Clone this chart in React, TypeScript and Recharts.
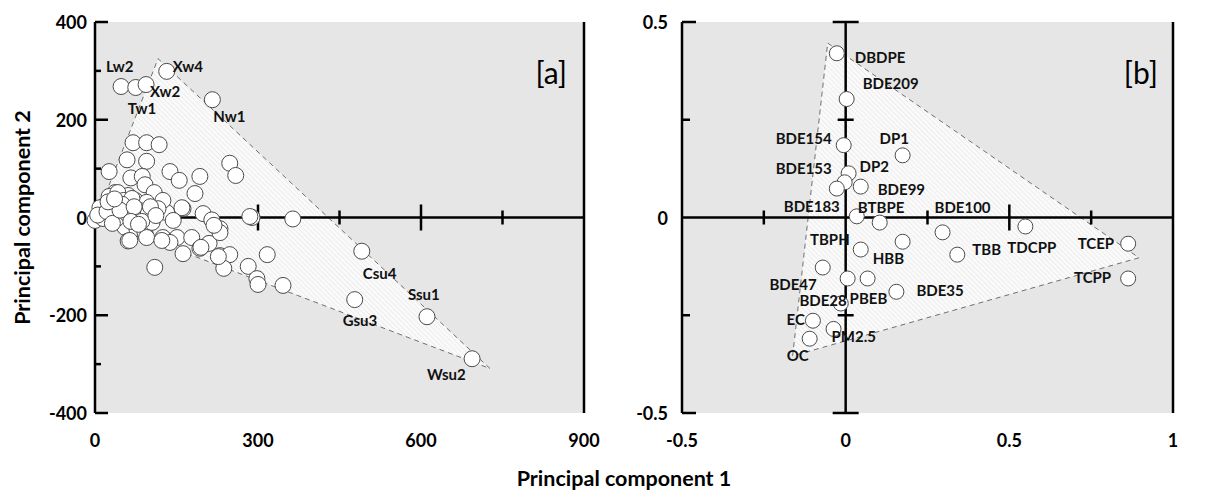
import React from 'react';
import { ScatterChart, Scatter, XAxis, YAxis, CartesianGrid } from 'recharts';

// [a] sample scores (PC1, PC2), unlabelled samples
const samplesA: [number, number][] = [
  [70, 153], [95, 153], [118, 149], [59, 118], [95, 115], [26, 94], [66, 81], [87, 84], [92, 67], [109, 51],
  [138, 94], [155, 76], [193, 84], [184, 49], [248, 111], [259, 86], [289, 0], [364, -3], [162, 18], [199, 8],
  [215, -5], [230, -23], [132, 10], [37, 51], [61, 45], [18, 25], [48, 25], [74, 35], [95, 31], [125, 35],
  [160, 20], [285, 2], [13, 0], [0, -6], [37, -6], [55, -20], [77, -23], [92, -31], [107, -2], [61, -48],
  [125, -41], [151, -41], [138, -51], [178, -41], [162, -74], [193, -63], [210, -53], [230, -78], [248, -76], [237, -104],
  [282, -100], [317, -76], [110, -102], [298, -125], [300, -137], [346, -139], [26, 43], [42, 51], [53, 35], [68, 39],
  [50, 27], [9, 20], [15, -2], [28, 8], [40, -2], [59, 8], [83, 14], [98, 8], [105, -10], [116, 18],
  [64, -47], [95, -41], [123, -47], [195, -61], [227, -80], [230, -31], [144, -6], [219, -16], [5, 5], [22, 12],
  [32, -12], [46, 15], [72, 22], [86, -8], [102, 22], [66, -8], [24, 32], [36, 38], [80, -14], [112, 4],
];

// [a] labelled samples
const namesA = ['Lw2', 'Tw1', 'Xw2', 'Xw4', 'Nw1', 'Csu4', 'Gsu3', 'Ssu1', 'Wsu2'];
const pc1A = [48, 75, 94, 132, 216, 491, 478, 611, 694];
const pc2A = [268, 266, 272, 299, 241, -69, -168, -203, -289];

// [a] outline of the sample cloud
const hullA: [number, number][] = [[2, -3], [116, 325], [727, -309]];

// [b] variable loadings
const namesB = [
  'DBDPE', 'BDE209', 'BDE154', 'DP1', 'DP2', 'BDE153', 'BDE183', 'BDE99', 'BTBPE', 'TBPH',
  'BDE100', 'HBB', 'TBB', 'TDCPP', 'TCEP', 'TCPP', 'BDE47', 'PBEB', 'BDE35', 'BDE28',
  'EC', 'PM2.5', 'OC',
];
const pc1B = [
  -0.027, 0.003, -0.006, 0.174, 0.009, -0.003, -0.027, 0.046, 0.034, 0.104,
  0.296, 0.046, 0.341, 0.549, 0.863, 0.863, -0.07, 0.067, 0.155, -0.015,
  -0.1, -0.037, -0.11,
];
const pc2B = [
  0.42, 0.303, 0.185, 0.159, 0.113, 0.09, 0.074, 0.079, 0.003, -0.013,
  -0.038, -0.082, -0.095, -0.023, -0.067, -0.156, -0.128, -0.156, -0.19, -0.22,
  -0.264, -0.285, -0.31,
];
const extraB: [number, number][] = [[0.174, -0.062], [0.006, -0.156]];
const hullB: [number, number][] = [[-0.055, 0.446], [0.896, -0.103], [-0.162, -0.354]];

// axis ticks
const xTicksA = [0, 300, 600, 900];
const yTicksA = [-400, -300, -200, -100, 0, 100, 200, 300, 400];
const zeroMajorA = [300, 600];
const zeroMinorA = [150, 450, 750];
const xTicksB = [-0.5, 0, 0.5, 1];
const yTicksB = [-0.5, -0.25, 0, 0.25, 0.5];
const zeroMajorXB = [0.5];
const zeroMinorXB = [-0.25, 0.25, 0.75];
const zeroMajorYB = [-0.5, 0.5];
const zeroMinorYB = [-0.25, 0.25];

// label placement: [anchor, dx, dy] in px from the point centre
const labelPosA: Record<string, ['start' | 'end', number, number]> = {
  Lw2: ['start', -15, -21],
  Tw1: ['start', -8, 21],
  Xw2: ['start', 4, 6],
  Xw4: ['start', 6, -5],
  Nw1: ['start', 1, 16],
  Csu4: ['start', 1, 22],
  Gsu3: ['start', -12, 20],
  Ssu1: ['start', -19, -23],
  Wsu2: ['start', -45, 15],
};
const labelPosB: Record<string, ['start' | 'end', number, number]> = {
  DBDPE: ['start', 18, 4],
  BDE209: ['start', 16, -16],
  BDE154: ['end', -12, -7],
  DP1: ['start', -23, -17],
  DP2: ['start', 11, -7],
  BDE153: ['end', -13, -14],
  BDE183: ['end', 3, 17],
  BDE99: ['start', 17, 2],
  BTBPE: ['start', 1, -9],
  TBPH: ['end', -30, 16],
  BDE100: ['start', -8, -25],
  HBB: ['start', 12, 8],
  TBB: ['start', 15, -6],
  TDCPP: ['start', -18, 21],
  TCEP: ['end', -14, -1],
  TCPP: ['end', -17, -1],
  BDE47: ['end', -6, 16],
  PBEB: ['start', -18, 20],
  BDE35: ['start', 20, -2],
  BDE28: ['end', 6, -4],
  EC: ['end', -8, -2],
  'PM2.5': ['start', -2, 7],
  OC: ['start', -23, 16],
};

const FONT = 'Lato, "Open Sans", sans-serif';
const tickFont: React.CSSProperties = { fontFamily: FONT, fontWeight: 700, fontSize: 18, fill: '#000' };
const nameFont: React.CSSProperties = { fontFamily: FONT, fontWeight: 700, fontSize: 15, fill: '#111' };
const BG = '#e6e6e6';

const pointsA = [
  ...samplesA.map(([x, y]) => ({ x, y })),
  ...namesA.map((name, i) => ({ name, x: pc1A[i], y: pc2A[i] })),
];
const namedA = namesA.map((name, i) => ({ name, x: pc1A[i], y: pc2A[i] }));
const namedB = namesB.map((name, i) => ({ name, x: pc1B[i], y: pc2B[i] }));
const pointsB = [...namedB, ...extraB.map(([x, y]) => ({ x, y }))];
const toXY = (arr: number[], y = 0) => arr.map((x) => ({ x, y }));
const toYX = (arr: number[]) => arr.map((y) => ({ x: 0, y }));

const makeYTick =
  (side: 'left' | 'right', gap: number, isMajor: (v: number) => boolean, majorLen: number, minorLen: number) =>
  (props: any) => {
    const { x, y, payload } = props;
    const v: number = payload.value;
    const dir = side === 'left' ? 1 : -1;
    const major = isMajor(v);
    return (
      <g>
        {v !== 0 && (
          <line x1={x} y1={y} x2={x + dir * (major ? majorLen : minorLen)} y2={y} stroke="#000" strokeWidth={2.5} />
        )}
        {major && (
          <text
            x={x - dir * gap}
            y={y}
            textAnchor={side === 'left' ? 'end' : 'start'}
            dominantBaseline="central"
            style={tickFont}
          >
            {v}
          </text>
        )}
      </g>
    );
  };

const xTick = (props: any) => (
  <text x={props.x} y={props.y + 27} textAnchor="middle" dominantBaseline="central" style={tickFont}>
    {props.payload.value}
  </text>
);

const hullShape = (p: any) => (
  <polygon
    points={p.points.map((q: any) => `${q.x},${q.y}`).join(' ')}
    fill="url(#hatch)"
    stroke="#6f6f6f"
    strokeWidth={1}
    strokeDasharray="5 4"
  />
);

const empty = () => <g />;
const vTick = (half: number) => (p: any) =>
  <line x1={p.cx} x2={p.cx} y1={p.cy - half} y2={p.cy + half} stroke="#000" strokeWidth={2.5} />;
const hTick = (half: number) => (p: any) =>
  <line x1={p.cx - half} x2={p.cx + half} y1={p.cy} y2={p.cy} stroke="#000" strokeWidth={2.5} />;
const dot = (r: number) => (p: any) =>
  <circle cx={p.cx} cy={p.cy} r={r} fill="#fff" stroke="#4a4a4a" strokeWidth={1} />;
const nameLabel = (pos: Record<string, ['start' | 'end', number, number]>) => (p: any) => {
  const [anchor, dx, dy] = pos[p.payload.name];
  return (
    <text x={p.cx + dx} y={p.cy + dy} textAnchor={anchor} dominantBaseline="central" style={nameFont}>
      {p.payload.name}
    </text>
  );
};
const zeroLine = { stroke: '#000', strokeWidth: 2.5 };

const PanelA = () => (
  <ScatterChart width={632} height={490} margin={{ top: 22, right: 0, bottom: 47, left: 0 }}>
    <CartesianGrid fill={BG} horizontal={false} vertical={false} stroke="none" />
    <XAxis
      type="number"
      dataKey="x"
      domain={[0, 900]}
      ticks={xTicksA}
      interval={0}
      height={30}
      axisLine={false}
      tickLine={false}
      tickSize={0}
      tickMargin={0}
      tick={xTick}
    />
    <YAxis
      type="number"
      dataKey="y"
      domain={[-400, 400]}
      ticks={yTicksA}
      interval={0}
      width={95}
      axisLine={zeroLine}
      tickLine={false}
      tickSize={0}
      tickMargin={0}
      tick={makeYTick('left', 8, (v) => v % 200 === 0, 13, 6)}
      label={{
        value: 'Principal component 2',
        angle: -90,
        position: 'insideLeft',
        offset: 22,
        style: { textAnchor: 'middle', fontFamily: FONT, fontWeight: 700, fontSize: 21.5, fill: '#000' },
      }}
    />
    <YAxis
      yAxisId="r"
      orientation="right"
      type="number"
      domain={[-400, 400]}
      ticks={yTicksA}
      interval={0}
      width={48}
      axisLine={zeroLine}
      tickLine={false}
      tickSize={0}
      tickMargin={0}
      tick={makeYTick('right', 6, (v) => v % 200 === 0, 14, 7)}
    />
    <Scatter data={hullA.map(([x, y]) => ({ x, y }))} shape={empty} line={hullShape} isAnimationActive={false} />
    <Scatter data={[{ x: 0, y: 0 }, { x: 900, y: 0 }]} shape={empty} line={zeroLine} isAnimationActive={false} />
    <Scatter data={toXY(zeroMajorA)} shape={vTick(13)} isAnimationActive={false} />
    <Scatter data={toXY(zeroMinorA)} shape={vTick(7)} isAnimationActive={false} />
    <Scatter data={pointsA} shape={dot(8)} isAnimationActive={false} />
    <Scatter data={namedA} shape={nameLabel(labelPosA)} isAnimationActive={false} />
  </ScatterChart>
);

const PanelB = () => (
  <ScatterChart width={585} height={490} margin={{ top: 22, right: 0, bottom: 47, left: 0 }}>
    <CartesianGrid fill={BG} horizontal={false} vertical={false} stroke="none" />
    <XAxis
      type="number"
      dataKey="x"
      domain={[-0.5, 1]}
      ticks={xTicksB}
      interval={0}
      height={30}
      axisLine={false}
      tickLine={false}
      tickSize={0}
      tickMargin={0}
      tick={xTick}
    />
    <YAxis
      type="number"
      dataKey="y"
      domain={[-0.5, 0.5]}
      ticks={yTicksB}
      interval={0}
      width={50}
      axisLine={zeroLine}
      tickLine={false}
      tickSize={0}
      tickMargin={0}
      tick={makeYTick('left', 14, (v) => Math.abs(v) !== 0.25, 14, 8)}
    />
    <YAxis
      yAxisId="r"
      orientation="right"
      type="number"
      domain={[-0.5, 0.5]}
      ticks={yTicksB}
      interval={0}
      width={44}
      axisLine={zeroLine}
      tickLine={false}
      tickSize={0}
      tickMargin={0}
      tick={makeYTick('right', 12, (v) => Math.abs(v) !== 0.25, 10, 8)}
    />
    <Scatter data={hullB.map(([x, y]) => ({ x, y }))} shape={empty} line={hullShape} isAnimationActive={false} />
    <Scatter data={[{ x: -0.5, y: 0 }, { x: 1, y: 0 }]} shape={empty} line={zeroLine} isAnimationActive={false} />
    <Scatter data={[{ x: 0, y: -0.5 }, { x: 0, y: 0.5 }]} shape={empty} line={zeroLine} isAnimationActive={false} />
    <Scatter data={toXY(zeroMajorXB)} shape={vTick(13)} isAnimationActive={false} />
    <Scatter data={toXY(zeroMinorXB)} shape={vTick(7)} isAnimationActive={false} />
    <Scatter data={toYX(zeroMajorYB)} shape={hTick(13)} isAnimationActive={false} />
    <Scatter data={toYX(zeroMinorYB)} shape={hTick(8)} isAnimationActive={false} />
    <Scatter data={pointsB} shape={dot(7.5)} isAnimationActive={false} />
    <Scatter data={namedB} shape={nameLabel(labelPosB)} isAnimationActive={false} />
  </ScatterChart>
);

export default function App() {
  const tag: React.CSSProperties = {
    position: 'absolute',
    top: 55,
    width: 80,
    textAlign: 'right',
    fontFamily: FONT,
    fontSize: 30,
    lineHeight: '34px',
    color: '#000',
  };
  return (
    <div style={{ position: 'absolute', left: 0, top: 0, width: 1217, height: 490, background: '#fff', overflow: 'hidden' }}>
      <svg width={0} height={0} style={{ position: 'absolute' }}>
        <defs>
          <pattern id="hatch" width={3.5} height={3.5} patternUnits="userSpaceOnUse" patternTransform="rotate(-45)">
            <rect width={3.5} height={3.5} fill="#fafafa" />
            <line x1={0} y1={0} x2={0} y2={3.5} stroke="#e2e2e2" strokeWidth={1} />
          </pattern>
        </defs>
      </svg>
      <div style={{ position: 'absolute', left: 0, top: 0 }}>
        <PanelA />
      </div>
      <div style={{ position: 'absolute', left: 632, top: 0 }}>
        <PanelB />
      </div>
      <div style={{ ...tag, left: 567 - 80 }}>[a]</div>
      <div style={{ ...tag, left: 1158 - 80 }}>[b]</div>
      <div
        style={{
          position: 'absolute',
          left: 0,
          top: 465,
          width: 1248,
          textAlign: 'center',
          fontFamily: FONT,
          fontWeight: 700,
          fontSize: 21.5,
          lineHeight: '26px',
          color: '#000',
        }}
      >
        Principal component 1
      </div>
    </div>
  );
}
